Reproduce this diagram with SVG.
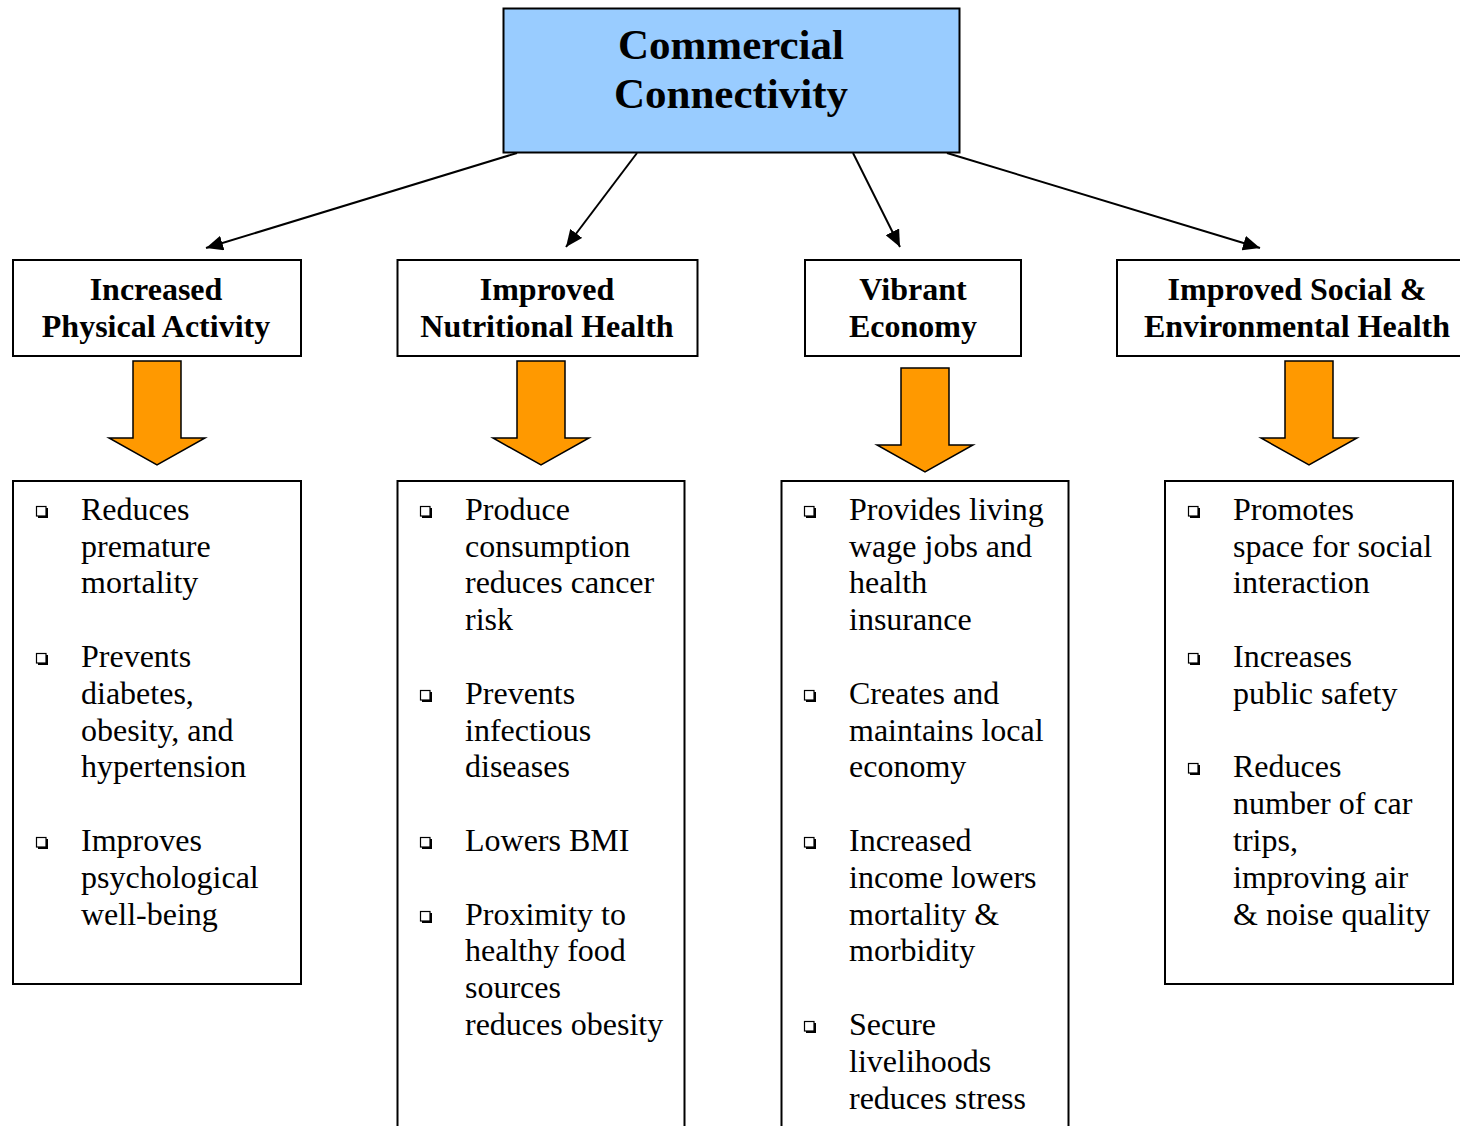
<svg xmlns="http://www.w3.org/2000/svg" width="1460" height="1126" viewBox="0 0 1460 1126">
<defs>
<style>
.box{fill:#fff;stroke:#000;stroke-width:2}
.hd{font-family:"Liberation Serif","Times New Roman",serif;font-weight:bold;font-size:32px;text-anchor:middle;fill:#000}
.tt{font-family:"Liberation Serif","Times New Roman",serif;font-weight:bold;font-size:43px;text-anchor:middle;fill:#000}
.bt{font-family:"Liberation Serif","Times New Roman",serif;font-size:32px;fill:#000}
.blk{fill:#FF9900;stroke:#000;stroke-width:1.5;stroke-linejoin:miter}
.con{stroke:#000;stroke-width:2;fill:none}
</style>
<marker id="ah" viewBox="0 0 10 10" refX="10" refY="5" markerWidth="17" markerHeight="15" markerUnits="userSpaceOnUse" orient="auto" preserveAspectRatio="none">
<path d="M0,0 L10,5 L0,10 z" fill="#000"/>
</marker>
<g id="bul">
<rect x="2" y="2" width="10" height="10" fill="#000"/>
<rect x="0.5" y="0.5" width="9.5" height="9.5" fill="#fff" stroke="#000" stroke-width="1.2"/>
</g>
<path id="bigarrow" d="M0,0 H48 V77 H72 L24,104 L-24,77 H0 Z"/>
</defs>
<rect width="1460" height="1126" fill="#fff"/>

<g id="connectors">
<line class="con" x1="517" y1="153" x2="206" y2="248" marker-end="url(#ah)"/>
<line class="con" x1="637" y1="153" x2="566" y2="247" marker-end="url(#ah)"/>
<line class="con" x1="853" y1="153" x2="900" y2="247" marker-end="url(#ah)"/>
<line class="con" x1="947" y1="153" x2="1260" y2="248" marker-end="url(#ah)"/>
</g>

<g id="top">
<rect x="503.5" y="8.5" width="456" height="144" fill="#99CCFF" stroke="#000" stroke-width="2"/>
<text class="tt" x="731" y="59">Commercial</text>
<text class="tt" x="731" y="108">Connectivity</text>
</g>

<g id="h1">
<rect class="box" x="13" y="260" width="288" height="96"/>
<text class="hd" x="156" y="300">Increased</text>
<text class="hd" x="156" y="337">Physical Activity</text>
</g>
<g id="h2">
<rect class="box" x="397.5" y="260" width="300" height="96"/>
<text class="hd" x="547" y="300">Improved</text>
<text class="hd" x="547" y="337">Nutritional Health</text>
</g>
<g id="h3">
<rect class="box" x="805" y="260" width="216" height="96"/>
<text class="hd" x="913" y="300">Vibrant</text>
<text class="hd" x="913" y="337">Economy</text>
</g>
<g id="h4">
<rect class="box" x="1117" y="260" width="360" height="96"/>
<text class="hd" x="1297" y="300">Improved Social &amp;</text>
<text class="hd" x="1297" y="337">Environmental Health</text>
</g>

<g id="a1"><use href="#bigarrow" class="blk" x="133" y="361"/></g>
<g id="a2"><use href="#bigarrow" class="blk" x="517" y="361"/></g>
<g id="a3"><use href="#bigarrow" class="blk" x="901" y="368"/></g>
<g id="a4"><use href="#bigarrow" class="blk" x="1285" y="361"/></g>

<g id="b1">
<rect class="box" x="13" y="481" width="288" height="503"/>
<use href="#bul" x="36" y="506"/>
<use href="#bul" x="36" y="653"/>
<use href="#bul" x="36" y="837"/>
<text class="bt" x="81" y="520">Reduces</text>
<text class="bt" x="81" y="557">premature</text>
<text class="bt" x="81" y="593">mortality</text>
<text class="bt" x="81" y="667">Prevents</text>
<text class="bt" x="81" y="704">diabetes,</text>
<text class="bt" x="81" y="741">obesity, and</text>
<text class="bt" x="81" y="777">hypertension</text>
<text class="bt" x="81" y="851">Improves</text>
<text class="bt" x="81" y="888">psychological</text>
<text class="bt" x="81" y="925">well-being</text>
</g>

<g id="b2">
<rect class="box" x="397.5" y="481" width="287" height="660"/>
<use href="#bul" x="420" y="506"/>
<use href="#bul" x="420" y="690"/>
<use href="#bul" x="420" y="837"/>
<use href="#bul" x="420" y="911"/>
<text class="bt" x="465" y="520">Produce</text>
<text class="bt" x="465" y="557">consumption</text>
<text class="bt" x="465" y="593">reduces cancer</text>
<text class="bt" x="465" y="630">risk</text>
<text class="bt" x="465" y="704">Prevents</text>
<text class="bt" x="465" y="741">infectious</text>
<text class="bt" x="465" y="777">diseases</text>
<text class="bt" x="465" y="851">Lowers BMI</text>
<text class="bt" x="465" y="925">Proximity to</text>
<text class="bt" x="465" y="961">healthy food</text>
<text class="bt" x="465" y="998">sources</text>
<text class="bt" x="465" y="1035">reduces obesity</text>
</g>

<g id="b3">
<rect class="box" x="781.5" y="481" width="287" height="660"/>
<use href="#bul" x="804" y="506"/>
<use href="#bul" x="804" y="690"/>
<use href="#bul" x="804" y="837"/>
<use href="#bul" x="804" y="1021"/>
<text class="bt" x="849" y="520">Provides living</text>
<text class="bt" x="849" y="557">wage jobs and</text>
<text class="bt" x="849" y="593">health</text>
<text class="bt" x="849" y="630">insurance</text>
<text class="bt" x="849" y="704">Creates and</text>
<text class="bt" x="849" y="741">maintains local</text>
<text class="bt" x="849" y="777">economy</text>
<text class="bt" x="849" y="851">Increased</text>
<text class="bt" x="849" y="888">income lowers</text>
<text class="bt" x="849" y="925">mortality &amp;</text>
<text class="bt" x="849" y="961">morbidity</text>
<text class="bt" x="849" y="1035">Secure</text>
<text class="bt" x="849" y="1072">livelihoods</text>
<text class="bt" x="849" y="1109">reduces stress</text>
</g>

<g id="b4">
<rect class="box" x="1165" y="481" width="288" height="503"/>
<use href="#bul" x="1188" y="506"/>
<use href="#bul" x="1188" y="653"/>
<use href="#bul" x="1188" y="763"/>
<text class="bt" x="1233" y="520">Promotes</text>
<text class="bt" x="1233" y="557">space for social</text>
<text class="bt" x="1233" y="593">interaction</text>
<text class="bt" x="1233" y="667">Increases</text>
<text class="bt" x="1233" y="704">public safety</text>
<text class="bt" x="1233" y="777">Reduces</text>
<text class="bt" x="1233" y="814">number of car</text>
<text class="bt" x="1233" y="851">trips,</text>
<text class="bt" x="1233" y="888">improving air</text>
<text class="bt" x="1233" y="925">&amp; noise quality</text>
</g>
</svg>
